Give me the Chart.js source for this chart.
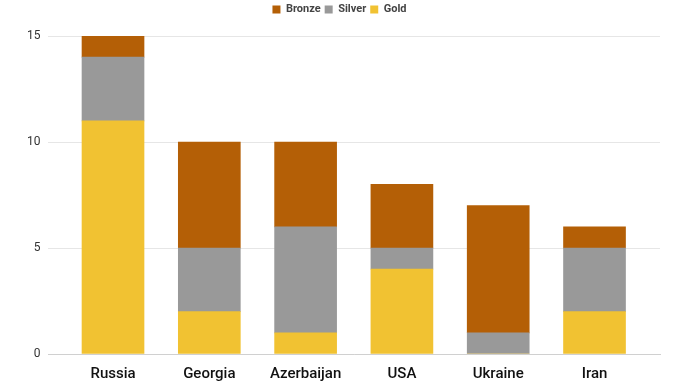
<!DOCTYPE html>
<html>
<head>
<meta charset="utf-8">
<script src="https://cdn.jsdelivr.net/npm/chart.js@4"></script>
<style>
  html, body { margin: 0; padding: 0; background: #fff; }
  #wrap { width: 680px; height: 382px; }
</style>
</head>
<body>
<div id="wrap"><canvas id="medals"></canvas></div>
<script>
// medal counts per country
const countries = ['Russia', 'Georgia', 'Azerbaijan', 'USA', 'Ukraine', 'Iran'];
const gold   = [11, 2, 1, 4, 0, 2];
const silver = [3, 3, 5, 1, 1, 3];
const bronze = [1, 5, 4, 3, 6, 1];
const yTicks = [0, 5, 10, 15];

// x positions are category indexes on a linear axis (gives the side margins)
const pts = arr => arr.map((v, i) => ({ x: i, y: v }));

// extra room under the legend
const legendGap = {
    id: 'legendGap',
    beforeInit(chart) {
        const fit = chart.legend.fit;
        chart.legend.fit = function () {
            fit.bind(chart.legend)();
            this.height += 11;
        };
    }
};

const ctx = document.getElementById('medals').getContext('2d');
new Chart(ctx, {
    type: 'bar',
    data: {
        datasets: [
            { label: 'Gold', data: pts(gold), backgroundColor: '#f1c232' },
            { label: 'Silver', data: pts(silver), backgroundColor: '#999999' },
            { label: 'Bronze', data: pts(bronze), backgroundColor: '#b45f06' }
        ]
    },
    options: {
        responsive: true,
        maintainAspectRatio: false,
        animation: false,
        barThickness: 62,
        layout: { padding: { left: 19, right: 20, top: 0, bottom: -4 } },
        scales: {
            x: {
                type: 'linear',
                stacked: true,
                offset: false,
                min: -0.67,
                max: 5.68,
                afterBuildTicks: axis => { axis.ticks = countries.map((c, i) => ({ value: i })); },
                grid: { display: false },
                border: { color: '#d0d0d0' },
                ticks: {
                    callback: v => countries[v],
                    color: '#111',
                    font: { family: 'Roboto', size: 15, weight: '500' },
                    padding: 3,
                    maxRotation: 0,
                    minRotation: 0,
                    autoSkip: false
                }
            },
            y: {
                stacked: true,
                min: 0,
                max: 15,
                afterBuildTicks: axis => { axis.ticks = yTicks.map(v => ({ value: v })); },
                grid: { color: '#e6e6e6', drawTicks: false },
                border: { display: false },
                ticks: {
                    color: '#333',
                    font: { family: 'Roboto', size: 12 },
                    padding: 8
                }
            }
        },
        plugins: {
            legend: {
                reverse: true,
                labels: {
                    boxWidth: 8,
                    boxHeight: 8,
                    padding: 4,
                    color: '#444',
                    font: { family: 'Roboto', size: 11, weight: 'bold' }
                }
            },
            tooltip: { enabled: false }
        }
    },
    plugins: [legendGap]
});
</script>
</body>
</html>
